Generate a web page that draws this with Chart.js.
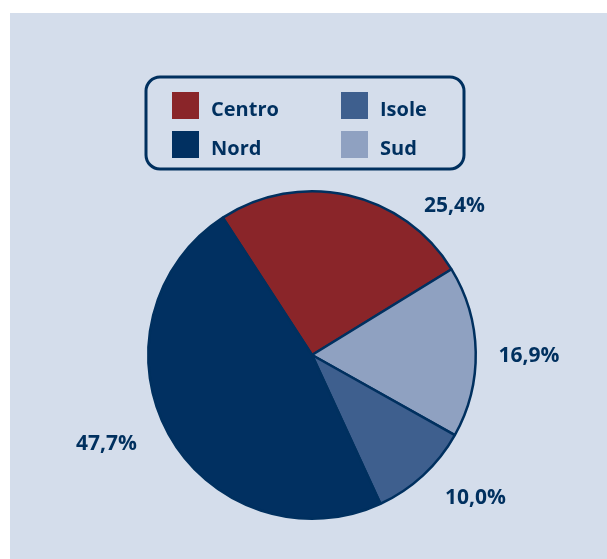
<!DOCTYPE html>
<html>
<head>
<meta charset="utf-8">
<script src="https://cdn.jsdelivr.net/npm/chart.js@4.4.0/dist/chart.umd.min.js"></script>
<style>
  body { margin: 0; background: #fff; }
  #panel { position: absolute; left: 10px; top: 13px; width: 597px; height: 546px; background: #d4ddeb; }
  #chart { position: absolute; left: 0; top: 0; }
</style>
</head>
<body>
<div id="panel"></div>
<canvas id="chart" width="607" height="559"></canvas>
<script>
// areas, clockwise from the top-left
const areas = ["Centro", "Sud", "Isole", "Nord"];
const shares = [25.4, 16.9, 10.0, 47.7];
const colors = ["#8a2529", "#8fa1c1", "#3e5f8e", "#013061"];
// legend reads column by column
const legendOrder = ["Centro", "Nord", "Isole", "Sud"];

const navy = "#00305f";
const font = "'Open Sans', 'DejaVu Sans', sans-serif";

// legend box + percentage labels drawn on the canvas
const extras = {
  id: "extras",
  afterDraw(chart, args, opts) {
    const ctx = chart.ctx;
    ctx.save();

    // legend frame
    ctx.strokeStyle = navy;
    ctx.lineWidth = 3;
    ctx.beginPath();
    ctx.roundRect(146, 77, 318, 92, 14);
    ctx.stroke();

    ctx.font = "bold 20px " + font;
    ctx.textBaseline = "alphabetic";
    ctx.textAlign = "left";
    legendOrder.forEach((name, i) => {
      const col = Math.floor(i / 2), row = i % 2;
      const x = 172 + col * 169, y = 92 + row * 39;
      ctx.fillStyle = colors[areas.indexOf(name)];
      ctx.fillRect(x, y, 27, 27);
      ctx.fillStyle = navy;
      ctx.fillText(name, x + 39, y + 24);
    });

    // percentage labels outside the pie
    ctx.font = "bold 21px " + font;
    ctx.textAlign = "center";
    ctx.textBaseline = "middle";
    const meta = chart.getDatasetMeta(0);
    meta.data.forEach((arc, i) => {
      const mid = (arc.startAngle + arc.endAngle) / 2 + opts.nudge[i] * Math.PI / 180;
      const r = opts.dist[i];
      const x = arc.x + Math.cos(mid) * r;
      const y = arc.y + Math.sin(mid) * r;
      ctx.fillStyle = navy;
      ctx.fillText(shares[i].toFixed(1).replace(".", ",") + "%", x, y);
    });
    ctx.restore();
  }
};

new Chart(document.getElementById("chart"), {
  type: "pie",
  data: {
    labels: areas,
    datasets: [
      {
        data: shares,
        backgroundColor: colors,
        borderColor: navy,
        borderWidth: 2.5,
      },
    ],
  },
  options: {
    responsive: false,
    animation: false,
    rotation: -33,
    layout: {
      padding: { left: 147, right: 130, top: 190, bottom: 39 },
    },
    plugins: {
      legend: { display: false },
      tooltip: { enabled: false },
      extras: {
        nudge: [31, 1.3, -6.2, 5.5],
        dist: [206, 217, 217, 224],
      },
    },
  },
  plugins: [extras],
});
</script>
</body>
</html>
